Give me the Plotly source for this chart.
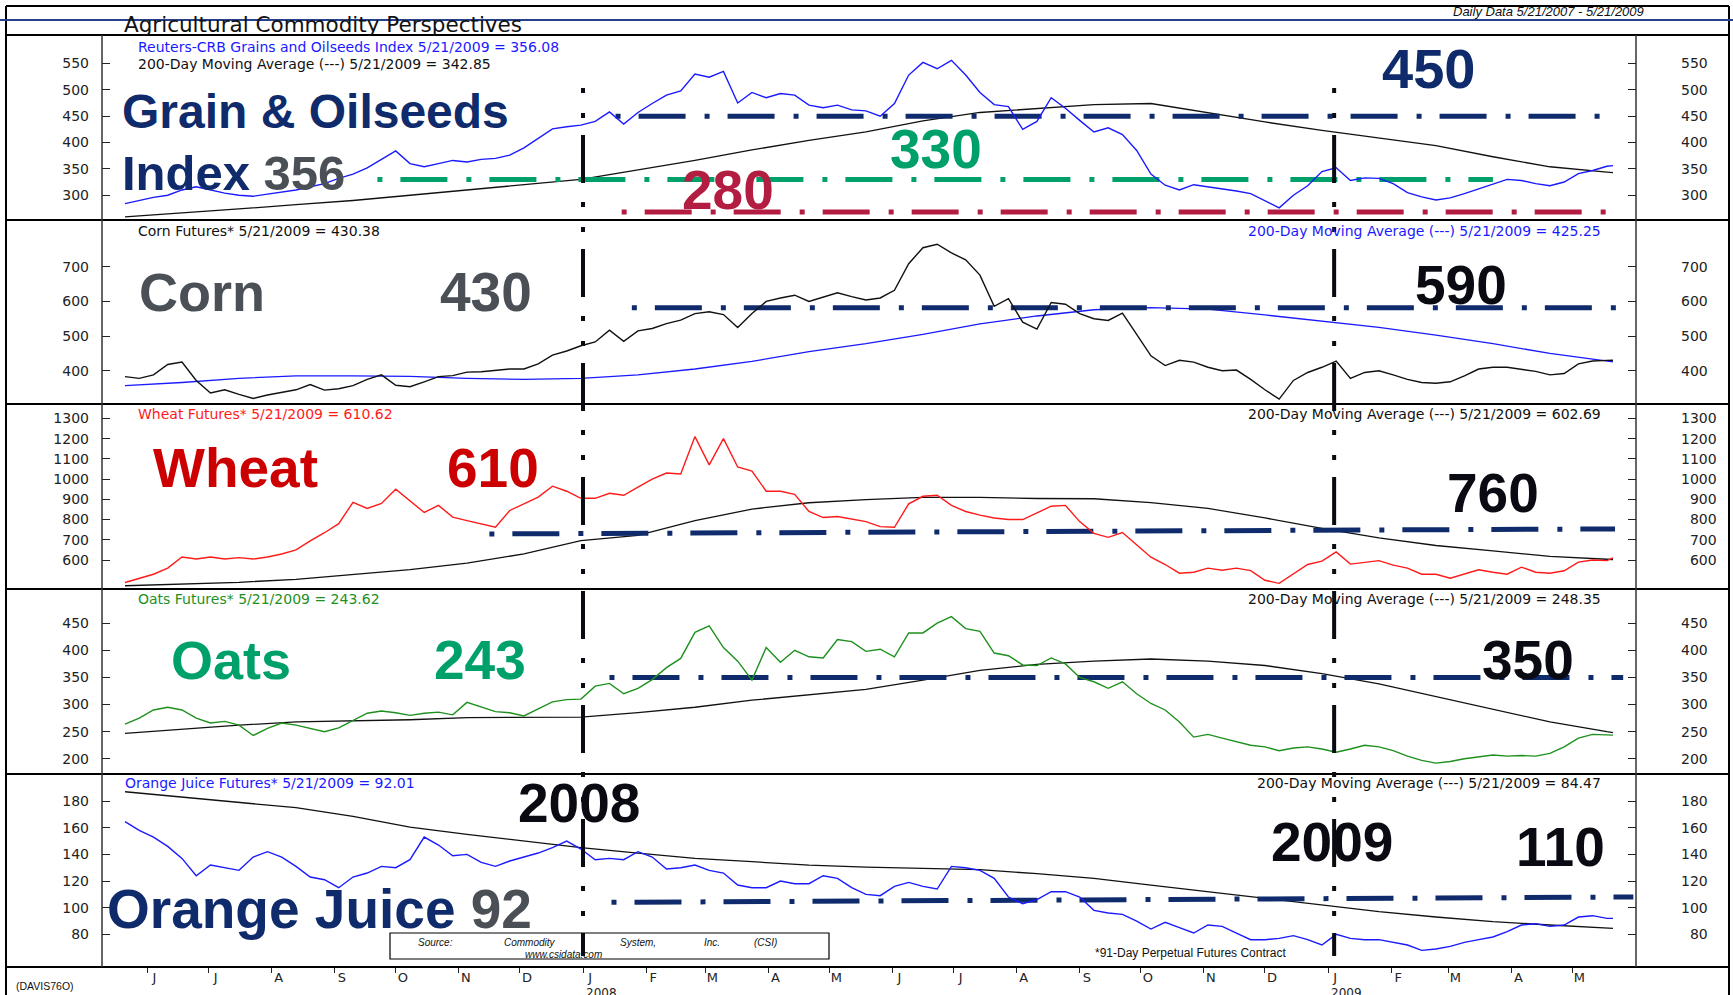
import pandas as pd
import plotly.graph_objects as go

# ---------------- data ----------------
start_date = "2007-05-21"
end_date = "2009-05-21"
week_dates = list(pd.date_range(start_date, periods=105, freq="7D")) + [pd.Timestamp(end_date)]
ma_dates = week_dates[:-1:4] + [week_dates[-1]]

grain = [284, 290, 296, 300, 310, 316, 310, 304, 300, 298,
         302, 306, 310, 316, 322, 332, 340, 352, 368, 384,
         360, 354, 360, 366, 363, 368, 370, 376, 390, 408,
         426, 430, 433, 440, 458, 435, 457, 474, 490, 498,
         530, 524, 535, 475, 495, 485, 493, 490, 471, 466,
         471, 462, 460, 450, 474, 528, 552, 540, 556, 528,
         495, 472, 468, 425, 440, 485, 465, 442, 420, 428,
         415, 385, 340, 319, 310, 320, 316, 313, 308, 303,
         290, 276, 300, 318, 345, 352, 328, 333, 332, 322,
         305, 297, 291, 295, 303, 312, 320, 330, 328, 322,
         318, 325, 341, 347, 355, 356.08]
grain_ma = [259, 266, 274, 282, 290, 300, 310, 320, 330, 348, 366, 386, 404, 420,
            441, 457, 465, 472, 474, 456, 439, 423, 409, 394, 373, 354, 344, 342.85]

corn = [383, 378, 388, 418, 425, 372, 336, 345, 332, 320,
        330, 337, 345, 360, 344, 348, 357, 375, 388, 358,
        354, 368, 383, 386, 396, 397, 402, 405, 405, 420,
        445, 457, 472, 483, 517, 485, 515, 522, 536, 546,
        565, 570, 562, 525, 565, 600, 610, 618, 600, 613,
        625, 614, 604, 610, 632, 709, 755, 765, 740, 720,
        676, 586, 608, 540, 520, 597, 592, 565, 550, 545,
        566, 505, 443, 415, 430, 425, 410, 400, 402, 375,
        345, 318, 372, 395, 410, 428, 378, 395, 400, 388,
        375, 366, 364, 368, 385, 405, 410, 410, 405, 398,
        388, 392, 420, 428, 430, 430.38]
corn_ma = [357, 366, 378, 385, 385, 384, 378, 375, 378, 388, 405, 427, 455, 478,
           505, 535, 558, 576, 582, 578, 561, 543, 525, 503, 478, 450, 427, 425.25]

wheat = [489, 510, 530, 560, 615, 605, 615, 605, 612, 605,
         615, 630, 650, 695, 735, 780, 885, 855, 880, 950,
         894, 835, 870, 812, 795, 778, 762, 845, 880, 911,
         965, 940, 905, 905, 930, 920, 960, 1000, 1030, 1025,
         1210, 1070, 1200, 1060, 1040, 940, 940, 925, 840, 810,
         815, 804, 790, 765, 762, 878, 915, 920, 870, 840,
         822, 808, 800, 800, 835, 866, 870, 790, 732, 712,
         736, 677, 614, 578, 535, 540, 560, 550, 560, 548,
         500, 485, 530, 578, 595, 640, 580, 590, 597, 575,
         560, 530, 530, 510, 530, 552, 540, 530, 565, 540,
         535, 547, 590, 600, 597, 610.62]
wheat_ma = [473, 480, 490, 505, 528, 553, 585, 630, 696, 722, 795, 852, 883, 899,
            910, 910, 904, 903, 884, 855, 808, 756, 710, 672, 645, 618, 604, 602.69]

oats = [264, 275, 290, 295, 290, 275, 266, 269, 262, 243,
        256, 266, 262, 256, 250, 257, 271, 284, 288, 285,
        280, 284, 286, 281, 304, 296, 287, 285, 279, 292,
        305, 309, 310, 334, 339, 320, 330, 346, 368, 385,
        433, 445, 405, 380, 345, 405, 378, 400, 388, 386,
        420, 416, 398, 402, 388, 432, 432, 450, 462, 440,
        435, 395, 390, 373, 372, 386, 375, 350, 342, 330,
        342, 320, 302, 290, 268, 240, 245, 238, 232, 225,
        222, 215, 220, 222, 218, 212, 218, 225, 222, 215,
        205, 197, 192, 195, 200, 203, 207, 205, 206, 205,
        210, 222, 238, 245, 244, 243.62]
oats_ma = [247, 255, 262, 268, 270, 272, 276, 277, 277, 285, 295, 308, 318, 328,
           345, 363, 374, 380, 384, 380, 372, 357, 338, 315, 292, 268, 250, 248.35]

oj = [164.5, 158, 153, 146, 137, 124, 132, 130, 128, 138,
      142, 138, 131, 123, 121, 115, 123, 126, 131, 130,
      136, 153, 147, 139, 140, 134, 131, 135, 138, 141,
      145, 150, 144, 136, 137, 136, 142, 138, 129, 130,
      132, 128, 126, 117, 115, 115, 120, 118, 118, 124,
      122, 115, 110, 109, 116, 119, 116, 114, 131, 130,
      128, 122, 108, 103, 106, 112, 112, 108, 98, 96,
      95, 90, 84, 89, 85, 81, 87, 86, 81, 76,
      76, 77, 79, 76, 72, 80, 77, 76, 76, 74,
      72, 68, 69, 71, 74, 76, 78, 82, 87, 88,
      86, 87, 93, 94, 92, 92.01]
oj_ma = [187, 183, 179.5, 175, 168.5, 160.5, 155, 150, 145, 141, 137, 134.5, 132, 130.5,
         129.5, 128.5, 125.5, 122, 117, 112, 107, 102.5, 97, 93, 89.5, 87, 84.7, 84.47]

# horizontal target levels (dash-dot)
grain_450 = [450, 450]; grain_450_dates = ["2008-01-17", "2009-05-21"]
grain_330 = [330, 330]; grain_330_dates = ["2007-09-22", "2009-03-23"]
grain_280 = [268, 268]; grain_280_dates = ["2008-01-20", "2009-05-22"]
corn_590 = [582, 582]; corn_590_dates = ["2008-01-25", "2009-05-28"]
wheat_760 = [729, 754]; wheat_760_dates = ["2007-11-16", "2009-05-22"]
oats_350 = [350, 350]; oats_350_dates = ["2008-01-14", "2009-05-26"]
oj_110 = [104, 108]; oj_110_dates = ["2008-01-15", "2009-05-31"]

year_lines = ["2008-01-01", "2009-01-04"]
year_labels = ["2008", "2009"]

month_starts = ["2007-06-01", "2007-07-01", "2007-08-01", "2007-09-01", "2007-10-01", "2007-11-01",
                "2007-12-01", "2008-01-01", "2008-02-01", "2008-03-01", "2008-04-01", "2008-05-01",
                "2008-06-01", "2008-07-01", "2008-08-01", "2008-09-01", "2008-10-01", "2008-11-01",
                "2008-12-01", "2009-01-01", "2009-02-01", "2009-03-01", "2009-04-01", "2009-05-01"]
month_letters = list("JJASONDJFMAMJJASONDJFMAM")

y_ticks = [
    [300, 350, 400, 450, 500, 550],
    [400, 500, 600, 700],
    [600, 700, 800, 900, 1000, 1100, 1200, 1300],
    [200, 250, 300, 350, 400, 450],
    [80, 100, 120, 140, 160, 180],
]
y_ranges = [[253, 604], [304, 835], [457, 1371], [172, 513], [55.5, 200.3]]

# ---------------- styling / geometry ----------------
W, H = 1733, 995
def X(px): return px / W
def Y(py): return 1 - py / H

PLOT_L, PLOT_R = 102, 1636
panels_px = [(35, 220), (220, 404), (404, 589), (589, 774), (774, 967)]
x_range = ["2007-05-09 17:00", "2009-06-01 07:00"]

NAVY = "#0f2b6b"; GREY = "#4a5056"; GREEN_BIG = "#00a06a"; CRIMSON = "#b31d42"
RED_BIG = "#cc0000"; BLACK = "#0a0a12"
BLUE = "#1a1aff"; LBLACK = "#111111"; RED = "#ff1a1a"; GREEN = "#1e901e"
LEVEL_DASH = "5px,18px,47px,19px"

fig = go.Figure()

series = [
    (grain, BLUE, grain_ma, LBLACK),
    (corn, LBLACK, corn_ma, BLUE),
    (wheat, RED, wheat_ma, LBLACK),
    (oats, GREEN, oats_ma, LBLACK),
    (oj, BLUE, oj_ma, LBLACK),
]
levels = [
    [(grain_450_dates, grain_450, NAVY), (grain_330_dates, grain_330, GREEN_BIG), (grain_280_dates, grain_280, CRIMSON)],
    [(corn_590_dates, corn_590, NAVY)],
    [(wheat_760_dates, wheat_760, NAVY)],
    [(oats_350_dates, oats_350, NAVY)],
    [(oj_110_dates, oj_110, NAVY)],
]

for i, (price, pc, ma, mc) in enumerate(series):
    n = i + 1
    xa = "x" if n == 1 else f"x{n}"
    ya = "y" if n == 1 else f"y{n}"
    fig.add_trace(go.Scatter(x=ma_dates, y=ma, mode="lines", line=dict(color=mc, width=1.3),
                             xaxis=xa, yaxis=ya, hoverinfo="skip"))
    for d, v, c in levels[i]:
        fig.add_trace(go.Scatter(x=d, y=v, mode="lines", line=dict(color=c, width=5, dash=LEVEL_DASH),
                                 xaxis=xa, yaxis=ya, hoverinfo="skip"))
    fig.add_trace(go.Scatter(x=week_dates, y=price, mode="lines", line=dict(color=pc, width=1.4),
                             xaxis=xa, yaxis=ya, hoverinfo="skip"))
    # invisible trace to carry the right-hand axis
    fig.add_trace(go.Scatter(x=week_dates, y=price, mode="lines", opacity=0,
                             xaxis=xa, yaxis=f"y{n+5}", hoverinfo="skip"))

layout = dict(width=W, height=H, margin=dict(l=0, r=0, t=0, b=0), autosize=False,
              paper_bgcolor="white", plot_bgcolor="white", showlegend=False)

tick_font = dict(family="DejaVu Sans", size=14, color="#222222")
label_vals = [pd.Timestamp(m) + pd.Timedelta(hours=84) for m in month_starts]

for i in range(5):
    n = i + 1
    top, bot = panels_px[i]
    dom = [Y(bot), Y(top)]
    xkey = "xaxis" if n == 1 else f"xaxis{n}"
    xa = dict(domain=[X(PLOT_L), X(PLOT_R)], range=x_range, type="date",
              anchor="y" if n == 1 else f"y{n}", showgrid=False, zeroline=False, showline=False,
              fixedrange=True)
    if n > 1:
        xa["matches"] = "x"
    if n == 5:
        xa.update(tickmode="array", tickvals=label_vals, ticktext=month_letters, ticks="",
                  tickfont=dict(family="DejaVu Sans", size=13, color="#222222"), ticklabelstandoff=1,
                  minor=dict(tickmode="array", tickvals=month_starts, ticks="outside",
                             ticklen=5, tickwidth=1.2, tickcolor="#222"))
    else:
        xa.update(showticklabels=False, ticks="")
    layout[xkey] = xa

    tv = y_ticks[i]
    maxlen = max(len(str(t)) for t in tv)
    tt_left = [str(t) for t in tv]
    tt_right = ["\u2007" * (maxlen - len(str(t))) + str(t) for t in tv]
    ykey = "yaxis" if n == 1 else f"yaxis{n}"
    layout[ykey] = dict(domain=dom, range=y_ranges[i], anchor="x" if n == 1 else f"x{n}",
                        tickmode="array", tickvals=tv, ticktext=tt_left, ticks="inside",
                        ticklen=8, tickwidth=1.3, tickcolor="#222", tickfont=tick_font,
                        ticklabelstandoff=12, showgrid=False, zeroline=False, showline=False,
                        fixedrange=True)
    layout[f"yaxis{n+5}"] = dict(domain=dom, range=y_ranges[i], anchor="x" if n == 1 else f"x{n}",
                                 overlaying="y" if n == 1 else f"y{n}", side="right",
                                 tickmode="array", tickvals=tv, ticktext=tt_right, ticks="inside",
                                 ticklen=8, tickwidth=1.3, tickcolor="#222", tickfont=tick_font,
                                 ticklabelstandoff=44, showgrid=False, zeroline=False,
                                 showline=False, fixedrange=True)

# ---------------- shapes ----------------
shapes = []
def pline(x0, y0, x1, y1, color="black", width=2, dash=None):
    d = dict(type="line", xref="paper", yref="paper", x0=X(x0), y0=Y(y0), x1=X(x1), y1=Y(y1),
             line=dict(color=color, width=width))
    if dash:
        d["line"]["dash"] = dash
    shapes.append(d)

pline(6, 6, 1729, 6)
pline(6, 6, 6, 1000)
pline(1729, 6, 1729, 1000)
for yy in [35, 220, 404, 589, 774, 967]:
    pline(6, yy, 1729, yy)
pline(PLOT_L, 35, PLOT_L, 967, color="#333", width=1.5)
pline(PLOT_R, 35, PLOT_R, 967, color="#333", width=1.5)
pline(0, 20, W, 20, color="#27408b", width=2)
shapes.append(dict(type="rect", xref="paper", yref="paper", x0=X(390), x1=X(829), y0=Y(959), y1=Y(933),
                   line=dict(color="black", width=1.2)))
for yl in year_lines:
    shapes.append(dict(type="line", xref="x", yref="paper", x0=yl, x1=yl, y0=Y(88), y1=Y(956),
                       line=dict(color=BLACK, width=4, dash="5px,20px,5px,17px,48px,19px")))
layout["shapes"] = shapes

# ---------------- annotations ----------------
anns = []
def ann(text, x, y, size, color, family="DejaVu Sans", xanchor="left", yanchor="middle"):
    anns.append(dict(text=text, x=X(x), y=Y(y), xref="paper", yref="paper", xanchor=xanchor,
                     yanchor=yanchor, showarrow=False, font=dict(family=family, size=size, color=color)))

BIG = "Liberation Sans, Arial, sans-serif"
ann("Agricultural Commodity Perspectives", 122, 25, 21.5, "#111")
ann("<i>Daily Data 5/21/2007 - 5/21/2009</i>", 1646, 12, 13, "#111", family=BIG, xanchor="right")

ann("Reuters-CRB Grains and Oilseeds Index 5/21/2009 = 356.08", 136, 47, 14, BLUE)
ann("200-Day Moving Average (---) 5/21/2009 = 342.85", 136, 64, 14, "#111")
ann("Corn Futures* 5/21/2009 = 430.38", 136, 231, 14, "#111")
ann("200-Day Moving Average (---) 5/21/2009 = 425.25", 1603, 231, 14, BLUE, xanchor="right")
ann("Wheat Futures* 5/21/2009 = 610.62", 136, 414, 14, RED)
ann("200-Day Moving Average (---) 5/21/2009 = 602.69", 1603, 414, 14, "#111", xanchor="right")
ann("Oats Futures* 5/21/2009 = 243.62", 136, 599, 14, GREEN)
ann("200-Day Moving Average (---) 5/21/2009 = 248.35", 1603, 599, 14, "#111", xanchor="right")
ann("Orange Juice Futures* 5/21/2009 = 92.01", 123, 783, 14, BLUE)
ann("200-Day Moving Average (---) 5/21/2009 = 84.47", 1603, 783, 14, "#111", xanchor="right")

ann("<b>Grain &amp; Oilseeds</b>", 120, 112, 48, NAVY, family=BIG)
ann(f"<b>Index <span style='color:{GREY}'>356</span></b>", 120, 173, 49, NAVY, family=BIG)
ann("<b>450</b>", 1380, 68, 56, NAVY, family=BIG)
ann("<b>330</b>", 888, 149, 55, GREEN_BIG, family=BIG)
ann("<b>280</b>", 680, 190, 55, CRIMSON, family=BIG)
ann("<b>Corn</b>", 137, 292, 54, GREY, family=BIG)
ann("<b>430</b>", 438, 292, 55, GREY, family=BIG)
ann("<b>590</b>", 1413, 285, 55, BLACK, family=BIG)
ann("<b>Wheat</b>", 151, 468, 55, RED_BIG, family=BIG)
ann("<b>610</b>", 445, 468, 55, RED_BIG, family=BIG)
ann("<b>760</b>", 1445, 493, 55, BLACK, family=BIG)
ann("<b>Oats</b>", 169, 660, 54, GREEN_BIG, family=BIG)
ann("<b>243</b>", 432, 660, 55, GREEN_BIG, family=BIG)
ann("<b>350</b>", 1480, 660, 55, BLACK, family=BIG)
ann("<b>2008</b>", 516, 803, 55, BLACK, family=BIG)
ann("<b>2009</b>", 1269, 842, 55, BLACK, family=BIG)
ann("<b>110</b>", 1514, 847, 55, BLACK, family=BIG)
ann(f"<b>Orange Juice <span style='color:{GREY}'>92</span></b>", 105, 909, 55, NAVY, family=BIG)

ann("<i>Source:</i>", 416, 942, 10, "#111", family=BIG)
ann("<i>Commodity</i>", 502, 942, 10, "#111", family=BIG)
ann("<i>System,</i>", 618, 942, 10, "#111", family=BIG)
ann("<i>Inc.</i>", 702, 942, 10, "#111", family=BIG)
ann("<i>(CSI)</i>", 752, 942, 10, "#111", family=BIG)
ann("<i>www.csidata.com</i>", 523, 954, 10, "#111", family=BIG)
ann("*91-Day Perpetual Futures Contract", 1093, 953, 12, "#111", family=BIG)
ann("(DAVIS76O)", 14, 986, 10.5, "#111", family=BIG)

for yl, lab in zip(year_lines, year_labels):
    anns.append(dict(text=lab, x=lab + "-01-01", xref="x", y=Y(984), yref="paper", xanchor="left",
                     yanchor="top", xshift=1, showarrow=False,
                     font=dict(family="DejaVu Sans", size=12, color="#222222")))
layout["annotations"] = anns

fig.update_layout(**layout)
fig.write_html("out.html", config={"displayModeBar": False},
               post_script="document.body.style.margin='0';document.body.style.overflow='hidden';")
